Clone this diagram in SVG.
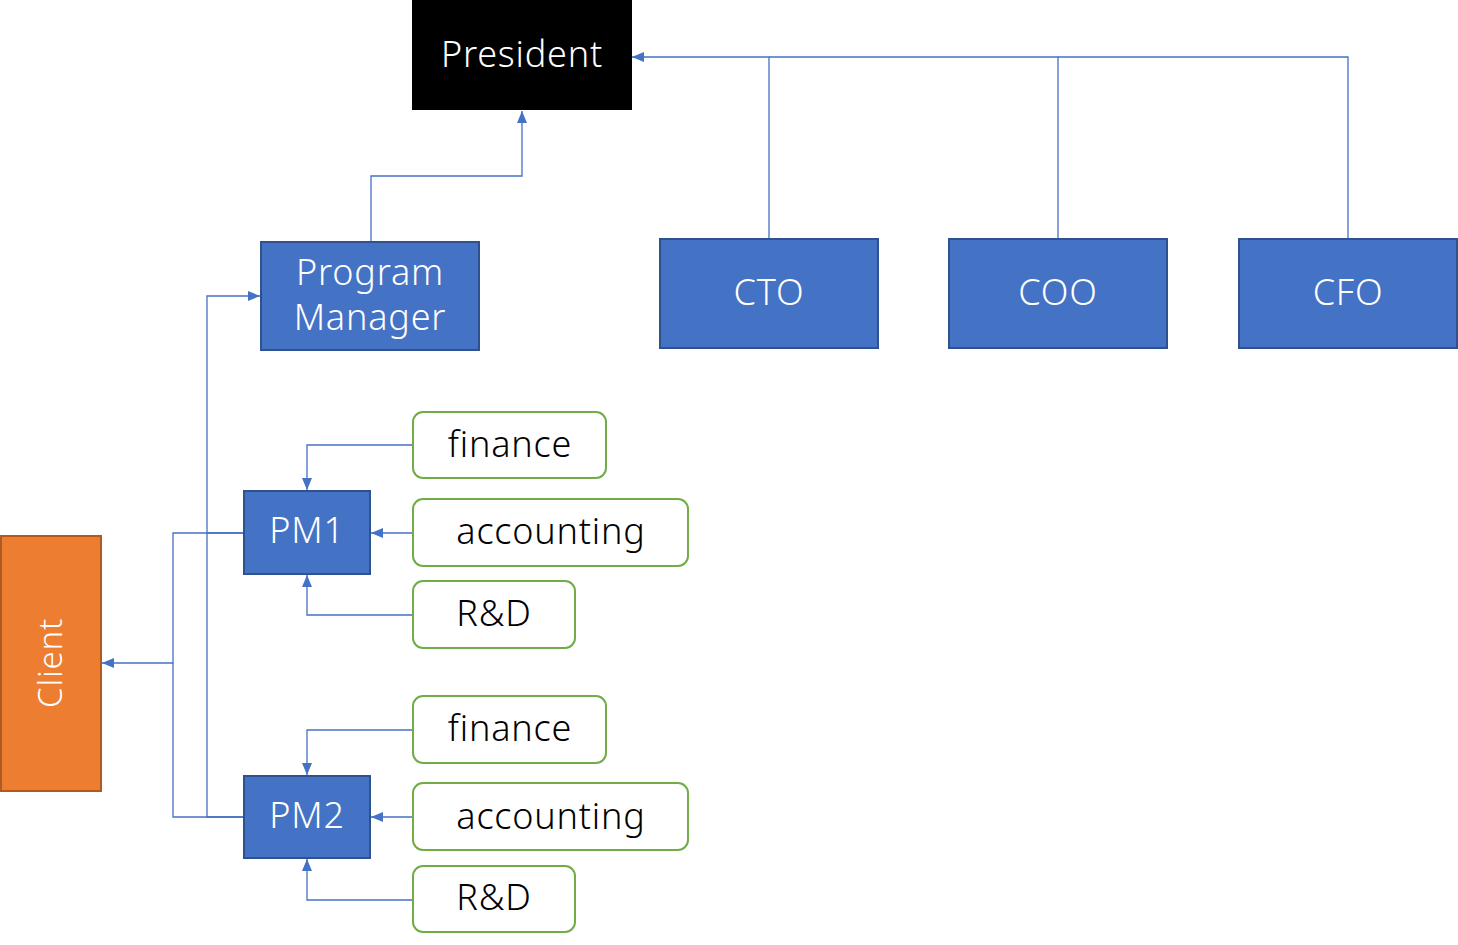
<svg xmlns="http://www.w3.org/2000/svg" width="1458" height="945" viewBox="0 0 1458 945">
<style>
.blue{fill:#4472C4;stroke:#2F528F;stroke-width:2}
.green{fill:#fff;stroke:#70AD47;stroke-width:2}
.t{font-family:"Noto Sans","Noto Sans CJK JP",sans-serif;font-size:36px;font-weight:300;letter-spacing:0.8px;text-anchor:middle;dominant-baseline:central}
.w{fill:#fff}
.k{fill:#000}
.c{fill:none;stroke:#4472C4;stroke-width:1.3}
</style>
<defs>
<marker id="a" viewBox="0 0 12 10" refX="12" refY="5" markerWidth="12" markerHeight="10" markerUnits="userSpaceOnUse" orient="auto">
<path d="M0,0 L12,5 L0,10 z" fill="#4472C4"/>
</marker>
</defs>
<g id="connectors">
<path class="c" d="M769,239 V57 H632" marker-end="url(#a)"/>
<path class="c" d="M1058,239 V57 H769"/>
<path class="c" d="M1348,239 V57 H1058"/>
<path class="c" d="M371,242 V176 H522 V111" marker-end="url(#a)"/>
<path class="c" d="M244,533 H207 V296 H260" marker-end="url(#a)"/>
<path class="c" d="M244,817 H207 V533"/>
<path class="c" d="M244,533 H173 V663 H102" marker-end="url(#a)"/>
<path class="c" d="M244,817 H173 V663"/>
<path class="c" d="M413,445 H307 V490" marker-end="url(#a)"/>
<path class="c" d="M413,533 H371" marker-end="url(#a)"/>
<path class="c" d="M413,615 H307 V575" marker-end="url(#a)"/>
<path class="c" d="M413,730 H307 V775" marker-end="url(#a)"/>
<path class="c" d="M413,817 H371" marker-end="url(#a)"/>
<path class="c" d="M413,900 H307 V859" marker-end="url(#a)"/>
</g>
<g id="president"><rect x="412" y="0" width="220" height="110" fill="#000"/><text class="t w" x="522" y="53">President</text></g>
<g id="program-manager"><rect class="blue" x="261" y="242" width="218" height="108"/><text class="t w" x="370" y="271">Program</text><text class="t w" x="370" y="316">Manager</text></g>
<g id="cto"><rect class="blue" x="660" y="239" width="218" height="109"/><text class="t w" x="769" y="291">CTO</text></g>
<g id="coo"><rect class="blue" x="949" y="239" width="218" height="109"/><text class="t w" x="1058" y="291">COO</text></g>
<g id="cfo"><rect class="blue" x="1239" y="239" width="218" height="109"/><text class="t w" x="1348" y="291">CFO</text></g>
<g id="pm1"><rect class="blue" x="244" y="491" width="126" height="83"/><text class="t w" x="307" y="529">PM1</text></g>
<g id="finance1"><rect class="green" x="413" y="412" width="193" height="66" rx="10"/><text class="t k" x="510" y="443">finance</text></g>
<g id="accounting1"><rect class="green" x="413" y="499" width="275" height="67" rx="10"/><text class="t k" x="551" y="530">accounting</text></g>
<g id="rd1"><rect class="green" x="413" y="581" width="162" height="67" rx="10"/><text class="t k" x="494" y="612">R&amp;D</text></g>
<g id="pm2"><rect class="blue" x="244" y="776" width="126" height="82"/><text class="t w" x="307" y="814">PM2</text></g>
<g id="finance2"><rect class="green" x="413" y="696" width="193" height="67" rx="10"/><text class="t k" x="510" y="727">finance</text></g>
<g id="accounting2"><rect class="green" x="413" y="783" width="275" height="67" rx="10"/><text class="t k" x="551" y="815">accounting</text></g>
<g id="rd2"><rect class="green" x="413" y="866" width="162" height="66" rx="10"/><text class="t k" x="494" y="896">R&amp;D</text></g>
<g id="client"><rect x="1" y="536" width="100" height="255" fill="#ED7D31" stroke="#AE5A21" stroke-width="2"/><text class="t w" x="0" y="0" style="font-size:33px" transform="translate(49,663) rotate(-90)">Client</text></g>
</svg>
